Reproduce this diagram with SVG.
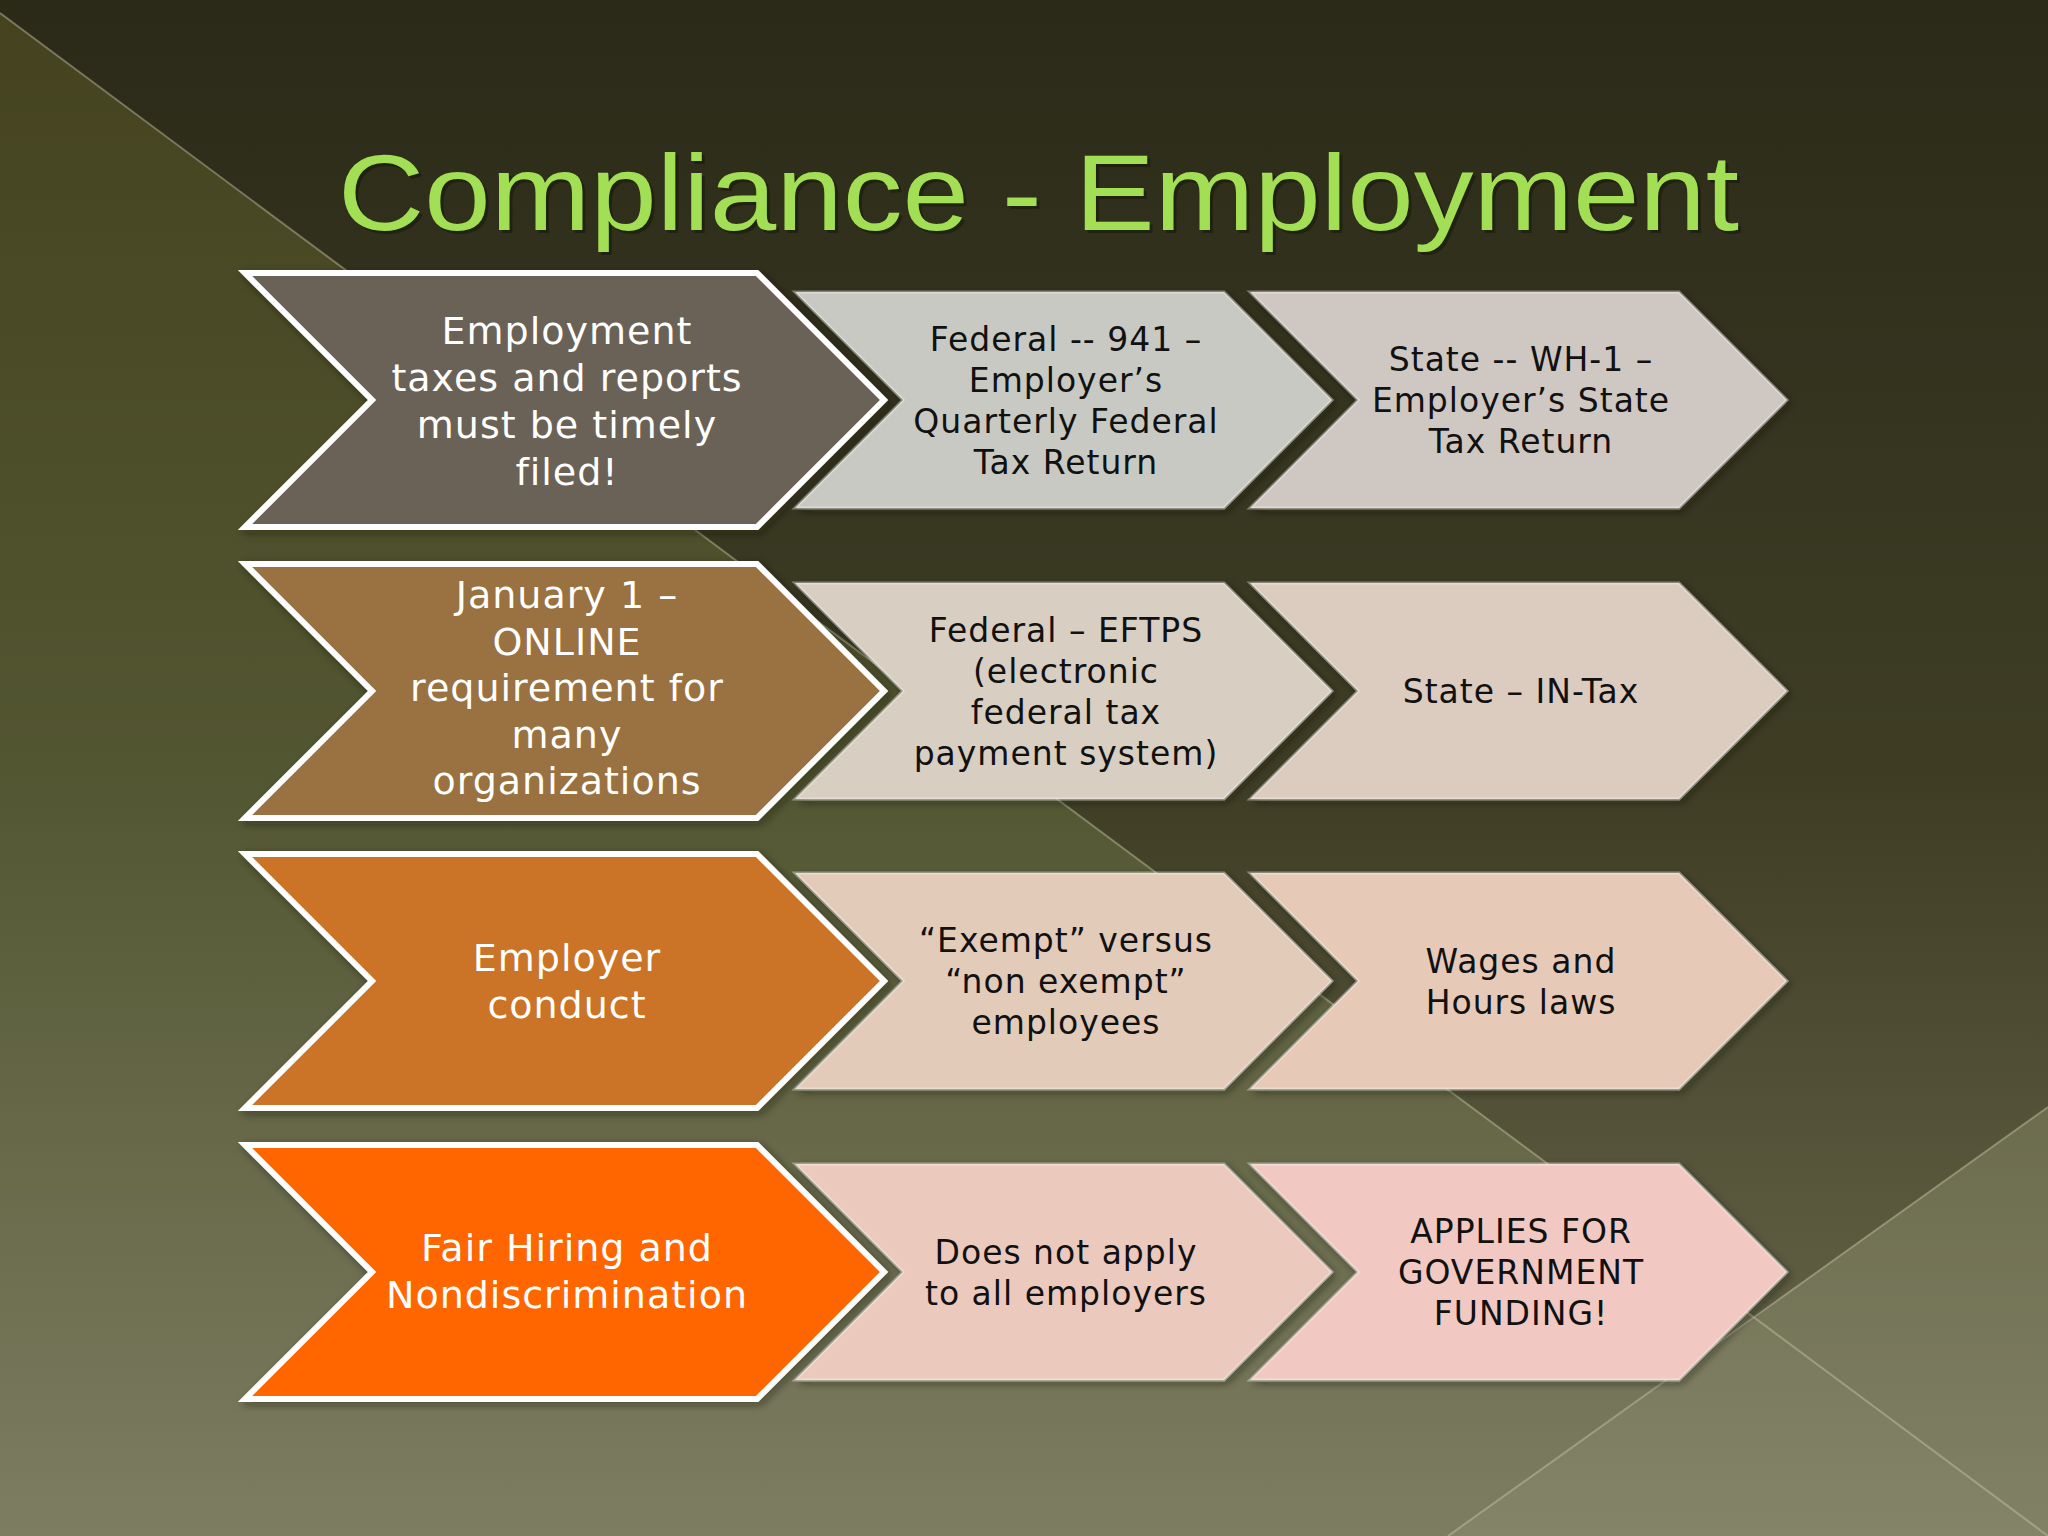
<svg xmlns="http://www.w3.org/2000/svg" width="2048" height="1536" viewBox="0 0 2048 1536">
<defs>
<linearGradient id="bgTop" x1="0" y1="0" x2="0" y2="1">
<stop offset="0" stop-color="#2b2a19"/>
<stop offset="0.5" stop-color="#3e3d24"/>
<stop offset="1" stop-color="#6c6c50"/>
</linearGradient>
<linearGradient id="bgLow" x1="0" y1="0" x2="0" y2="1">
<stop offset="0" stop-color="#45431f"/>
<stop offset="0.5" stop-color="#525631"/>
<stop offset="1" stop-color="#7d7d62"/>
</linearGradient>
<linearGradient id="bgCorner" x1="0" y1="0" x2="0" y2="1">
<stop offset="0" stop-color="#707052"/>
<stop offset="1" stop-color="#85856a"/>
</linearGradient>
<filter id="shadow" x="-10%" y="-10%" width="130%" height="130%">
<feDropShadow dx="3" dy="3" stdDeviation="4" flood-color="#1a1a0c" flood-opacity="0.45"/>
</filter>
</defs>
<style>
.big{stroke:#ffffff;stroke-width:6;stroke-linejoin:miter}
.small{stroke:#ffffff;stroke-opacity:0.35;stroke-width:3;stroke-linejoin:miter}
.tw{font-family:"DejaVu Sans","Liberation Sans",sans-serif;font-size:38px;letter-spacing:1px;fill:#ffffff;text-anchor:middle}
.tb{font-family:"DejaVu Sans","Liberation Sans",sans-serif;font-size:33px;letter-spacing:1px;fill:#111111;text-anchor:middle}
.bgline{stroke:#c8c8a8;stroke-opacity:0.45;stroke-width:2;fill:none}
</style>

<rect x="0" y="0" width="2048" height="1536" fill="url(#bgTop)"/>
<polygon points="0,13 2048,1536 0,1536" fill="url(#bgLow)"/>
<polygon points="2048,1107 1448,1536 2048,1536" fill="url(#bgCorner)" fill-opacity="0.85"/>
<line class="bgline" x1="0" y1="13" x2="2048" y2="1536"/>
<line class="bgline" x1="2048" y1="1107" x2="1448" y2="1536"/>

<g id="title">
<text x="341" y="233" font-family="'Liberation Sans',Arial,sans-serif" font-size="108" fill="#1c1c0c" fill-opacity="0.7" textLength="1401" lengthAdjust="spacingAndGlyphs">Compliance - Employment</text>
<text x="338" y="230" font-family="'Liberation Sans',Arial,sans-serif" font-size="108" fill="#a3df55" textLength="1401" lengthAdjust="spacingAndGlyphs">Compliance - Employment</text>
</g>

<g id="connectors"/>

<!-- Row 1 -->
<g id="row1-main">
<path class="big" fill="#6b6257" filter="url(#shadow)" d="M245,273 L757,273 L884,400 L757,527 L245,527 L372,400 Z"/>
<text class="tw" x="567" y="344">Employment</text>
<text class="tw" x="567" y="391">taxes and reports</text>
<text class="tw" x="567" y="438">must be timely</text>
<text class="tw" x="567" y="485">filed!</text>
</g>
<g id="row1-federal">
<path class="small" fill="#c9c9c3" filter="url(#shadow)" d="M795,292 L1224,292 L1332,400 L1224,508 L795,508 L903,400 Z"/>
<text class="tb" x="1066" y="351">Federal -- 941 –</text>
<text class="tb" x="1066" y="392">Employer’s</text>
<text class="tb" x="1066" y="433">Quarterly Federal</text>
<text class="tb" x="1066" y="474">Tax Return</text>
</g>
<g id="row1-state">
<path class="small" fill="#cfc8c2" filter="url(#shadow)" d="M1250,292 L1679,292 L1787,400 L1679,508 L1250,508 L1358,400 Z"/>
<text class="tb" x="1521" y="371">State -- WH-1 –</text>
<text class="tb" x="1521" y="412">Employer’s State</text>
<text class="tb" x="1521" y="453">Tax Return</text>
</g>

<!-- Row 2 -->
<g id="row2-main">
<path class="big" fill="#9a7140" filter="url(#shadow)" d="M245,564 L757,564 L884,691 L757,818 L245,818 L372,691 Z"/>
<text class="tw" x="567" y="608">January 1 –</text>
<text class="tw" x="567" y="655">ONLINE</text>
<text class="tw" x="567" y="701">requirement for</text>
<text class="tw" x="567" y="748">many</text>
<text class="tw" x="567" y="794">organizations</text>
</g>
<g id="row2-federal">
<path class="small" fill="#d8cec2" filter="url(#shadow)" d="M795,583 L1224,583 L1332,691 L1224,799 L795,799 L903,691 Z"/>
<text class="tb" x="1066" y="642">Federal – EFTPS</text>
<text class="tb" x="1066" y="683">(electronic</text>
<text class="tb" x="1066" y="724">federal tax</text>
<text class="tb" x="1066" y="765">payment system)</text>
</g>
<g id="row2-state">
<path class="small" fill="#dccbbf" filter="url(#shadow)" d="M1250,583 L1679,583 L1787,691 L1679,799 L1250,799 L1358,691 Z"/>
<text class="tb" x="1521" y="703">State – IN-Tax</text>
</g>

<!-- Row 3 -->
<g id="row3-main">
<path class="big" fill="#cb7326" filter="url(#shadow)" d="M245,854 L757,854 L884,981 L757,1108 L245,1108 L372,981 Z"/>
<text class="tw" x="567" y="971">Employer</text>
<text class="tw" x="567" y="1018">conduct</text>
</g>
<g id="row3-exempt">
<path class="small" fill="#e3cbb9" filter="url(#shadow)" d="M795,873 L1224,873 L1332,981 L1224,1089 L795,1089 L903,981 Z"/>
<text class="tb" x="1066" y="952">“Exempt” versus</text>
<text class="tb" x="1066" y="993">“non exempt”</text>
<text class="tb" x="1066" y="1034">employees</text>
</g>
<g id="row3-wages">
<path class="small" fill="#e7c9b7" filter="url(#shadow)" d="M1250,873 L1679,873 L1787,981 L1679,1089 L1250,1089 L1358,981 Z"/>
<text class="tb" x="1521" y="973">Wages and</text>
<text class="tb" x="1521" y="1014">Hours laws</text>
</g>

<!-- Row 4 -->
<g id="row4-main">
<path class="big" fill="#ff6600" filter="url(#shadow)" d="M245,1145 L757,1145 L884,1272 L757,1399 L245,1399 L372,1272 Z"/>
<text class="tw" x="567" y="1261">Fair Hiring and</text>
<text class="tw" x="567" y="1308">Nondiscrimination</text>
</g>
<g id="row4-apply">
<path class="small" fill="#ecc9bd" filter="url(#shadow)" d="M795,1164 L1224,1164 L1332,1272 L1224,1380 L795,1380 L903,1272 Z"/>
<text class="tb" x="1066" y="1264">Does not apply</text>
<text class="tb" x="1066" y="1305">to all employers</text>
</g>
<g id="row4-funding">
<path class="small" fill="#f2c9c2" filter="url(#shadow)" d="M1250,1164 L1679,1164 L1787,1272 L1679,1380 L1250,1380 L1358,1272 Z"/>
<text class="tb" x="1521" y="1243">APPLIES FOR</text>
<text class="tb" x="1521" y="1284">GOVERNMENT</text>
<text class="tb" x="1521" y="1325">FUNDING!</text>
</g>
</svg>
